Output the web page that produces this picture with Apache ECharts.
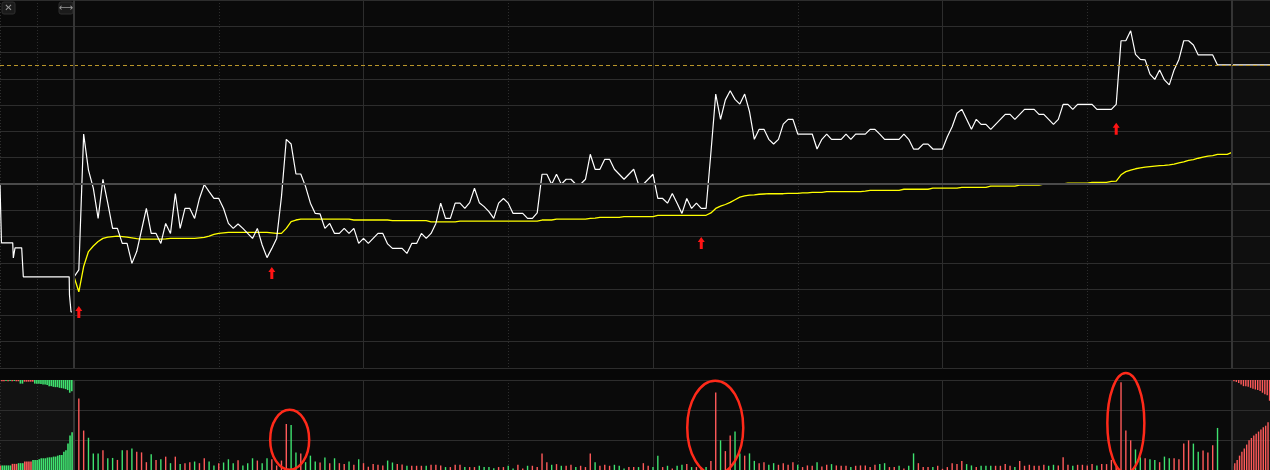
<!DOCTYPE html>
<html>
<head>
<meta charset="utf-8">
<script src="https://cdn.jsdelivr.net/npm/echarts/dist/echarts.min.js"></script>
<style>
html,body{margin:0;padding:0;background:#0a0a0a;overflow:hidden;}
#chart{width:1270px;height:470px;}
</style>
</head>
<body>
<div id="chart"></div>
<script>
// ---- intraday data (percent change vs. previous close), one point per minute 09:30..15:00 ----
const minutePrice = [
 -3.53,-3.27,1.90,0.53,-0.16,-1.31,0.18,-0.73,-1.69,-1.69,
 -2.26,-2.26,-3.02,-2.57,-1.75,-0.93,-1.88,-1.88,-2.26,-1.50,
 -1.88,-0.36,-1.69,-0.93,-0.93,-1.31,-0.55,-0.02,-0.29,-0.55,
 -0.55,-0.93,-1.50,-1.69,-1.52,-1.69,-1.88,-2.07,-1.69,-2.32,
 -2.80,-2.45,-2.07,-0.48,1.70,1.52,0.38,0.38,-0.10,-0.73,
 -1.12,-1.14,-1.69,-1.50,-1.88,-1.88,-1.69,-1.88,-1.69,-2.26,
 -2.07,-2.26,-2.07,-1.88,-1.88,-2.28,-2.45,-2.45,-2.45,-2.64,
 -2.26,-2.26,-1.88,-2.07,-1.88,-1.50,-0.73,-1.31,-1.31,-0.73,
 -0.73,-0.93,-0.71,-0.16,-0.71,-0.86,-1.05,-1.31,-0.73,-0.55,
 -0.73,-1.12,-1.12,-1.12,-1.31,-1.31,-1.10,0.37,0.37,-0.01,
 0.37,-0.01,0.18,0.18,-0.01,-0.01,0.18,1.13,0.56,0.56,
 0.94,0.94,0.56,0.37,0.18,0.37,0.56,-0.01,-0.01,0.18,
 0.37,-0.55,-0.55,-0.73,-0.36,-0.73,-1.12,-0.55,-0.93,-0.73,
 -0.93,-0.93,1.19,3.42,2.46,3.20,3.55,3.22,3.04,3.42,
 2.75,1.70,2.08,2.08,1.70,1.52,1.70,2.28,2.46,2.46,
 1.90,1.90,1.90,1.90,1.33,1.70,1.90,1.70,1.70,1.70,
 1.90,1.70,1.90,1.90,1.90,2.08,2.08,1.90,1.70,1.70,
 1.70,1.70,1.90,1.70,1.33,1.33,1.52,1.52,1.33,1.33,
 1.33,1.80,2.18,2.69,2.84,2.46,2.08,2.46,2.27,2.27,
 2.08,2.27,2.46,2.65,2.65,2.46,2.65,2.84,2.84,2.84,
 2.65,2.65,2.46,2.27,2.46,3.03,3.03,2.84,3.03,3.03,
 3.03,3.03,2.84,2.84,2.84,2.84,3.03,5.45,5.45,5.83,
 4.93,4.74,4.72,4.18,3.98,4.34,3.96,3.77,4.34,4.74,
 5.45,5.45,5.29,4.91,4.91,4.91,4.91,4.53,4.53,4.53,
 4.53
];
const minuteAvg = [
 -3.53,-4.10,-3.14,-2.57,-2.36,-2.19,-2.07,-2.02,-2.00,-1.98,
 -2.00,-2.02,-2.05,-2.08,-2.10,-2.10,-2.10,-2.10,-2.10,-2.09,
 -2.07,-2.07,-2.07,-2.07,-2.07,-2.07,-2.05,-2.03,-1.98,-1.92,
 -1.88,-1.86,-1.84,-1.84,-1.84,-1.84,-1.84,-1.84,-1.84,-1.84,
 -1.84,-1.86,-1.88,-1.88,-1.69,-1.43,-1.37,-1.34,-1.34,-1.34,
 -1.34,-1.34,-1.34,-1.34,-1.34,-1.34,-1.34,-1.34,-1.37,-1.37,
 -1.37,-1.37,-1.37,-1.37,-1.37,-1.37,-1.39,-1.39,-1.39,-1.39,
 -1.39,-1.39,-1.39,-1.39,-1.44,-1.44,-1.44,-1.44,-1.44,-1.44,
 -1.41,-1.41,-1.41,-1.41,-1.41,-1.41,-1.41,-1.41,-1.41,-1.41,
 -1.41,-1.41,-1.41,-1.41,-1.41,-1.41,-1.41,-1.37,-1.37,-1.37,
 -1.34,-1.34,-1.34,-1.34,-1.34,-1.34,-1.34,-1.31,-1.30,-1.27,
 -1.27,-1.27,-1.27,-1.27,-1.24,-1.24,-1.24,-1.24,-1.24,-1.24,
 -1.24,-1.19,-1.19,-1.19,-1.19,-1.19,-1.19,-1.19,-1.19,-1.19,
 -1.19,-1.19,-1.10,-0.93,-0.84,-0.78,-0.70,-0.60,-0.50,-0.45,
 -0.42,-0.41,-0.39,-0.38,-0.37,-0.37,-0.37,-0.37,-0.36,-0.36,
 -0.36,-0.34,-0.34,-0.32,-0.32,-0.32,-0.29,-0.29,-0.29,-0.29,
 -0.29,-0.29,-0.29,-0.29,-0.27,-0.24,-0.24,-0.24,-0.24,-0.24,
 -0.24,-0.24,-0.20,-0.20,-0.20,-0.20,-0.20,-0.20,-0.16,-0.16,
 -0.16,-0.16,-0.16,-0.16,-0.13,-0.13,-0.13,-0.13,-0.13,-0.13,
 -0.08,-0.08,-0.08,-0.08,-0.08,-0.08,-0.04,-0.04,-0.04,-0.04,
 -0.04,0.00,0.00,0.00,0.00,0.00,0.03,0.03,0.03,0.03,
 0.03,0.06,0.06,0.06,0.06,0.10,0.11,0.35,0.47,0.53,
 0.58,0.61,0.64,0.66,0.68,0.70,0.71,0.73,0.76,0.80,
 0.84,0.90,0.93,0.98,1.02,1.06,1.08,1.13,1.13,1.13,
 1.20
];
// per-minute volume (lots) and direction (1 = up tick, 0 = down tick)
const minuteVol = [
 1280,2380,1315,1075,554,554,662,391,402,336,
 662,662,717,608,587,261,522,336,358,445,
 228,445,196,228,261,282,228,391,282,152,
 228,250,358,228,326,152,228,391,315,228,
 391,358,152,315,1532,1500,587,554,261,478,
 282,250,413,228,391,228,196,282,174,358,
 228,109,196,174,152,315,250,196,185,141,
 141,141,141,141,174,174,152,98,98,174,
 174,98,98,98,141,98,98,60,98,98,
 141,50,174,50,141,141,98,554,261,174,
 196,141,141,174,98,141,98,554,261,141,
 174,141,174,141,50,98,98,98,228,141,
 98,478,98,141,50,141,174,196,98,98,
 98,98,304,2586,989,630,1152,1282,554,478,
 554,304,228,261,174,228,174,228,174,261,
 174,98,152,141,261,120,174,196,152,141,
 141,98,141,152,152,98,174,196,228,98,
 98,141,50,141,554,228,98,98,98,141,
 40,98,228,196,304,196,152,98,141,141,
 141,141,141,196,141,98,304,141,174,141,
 141,174,141,174,152,424,174,141,174,174,
 152,196,152,196,196,337,174,2923,1315,989,
 685,424,391,358,337,261,446,391,391,358,
 880,989,880,609,652,587,826,1402,0,0,
 1097
];
const minuteDir = [
 0,1,1,0,0,0,1,0,0,1, 0,1,0,1,1,1,0,1,0,1, 0,1,0,1,1,0,1,1,0,0, 1,0,0,0,1,0,0,0,1,0,
 0,1,1,1,1,0,0,1,0,0, 0,1,0,1,0,1,1,0,1,0, 1,1,1,1,1,0,0,1,1,0, 1,1,1,0,1,1,1,0,1,1,
 1,0,1,1,0,0,0,0,1,1, 0,0,1,1,0,1,1,1,1,0, 1,0,1,1,0,1,1,1,0,1, 1,1,0,0,0,1,1,0,1,1,
 0,0,1,0,1,0,0,1,0,1, 0,0,1,1,0,1,1,0,0,1, 0,0,1,1,0,0,1,1,1,1, 0,1,1,1,0,1,1,0,1,1,
 1,0,1,1,1,1,1,0,0,1, 1,0,1,0,0,1,1,1,0,1, 1,1,1,1,1,0,0,1,0,0, 0,1,1,1,1,0,1,1,1,1,
 1,1,0,0,1,1,1,0,1,1, 1,1,0,1,1,1,1,1,1,1, 0,0,1,0,0,1,0,0,1,1, 1,1,0,0,1,1,1,0,1,1,
 1
];

// ---- opening call auction (minutes after 09:15) ----
const auctionTime  = [0, 0.2, 0.2, 1.72, 1.8, 2.03, 2.93, 3.15, 9.35, 9.39, 9.55, 9.6, 9.73];
const auctionPrice = [0, 0, -2.24, -2.24, -2.81, -2.43, -2.43, -3.53, -3.53, -4.22, -4.22, -4.87, -4.87];
const auctionMatched   = [153,153,153,153,153,153,205,205,205,228,228,228,284,284,284,284,336,336,
                          336,359,391,391,391,414,424,424,447,447,479,499,499,610,662,880,1151,1262];
const auctionMatchedDir= [1,0,0,0,0,0,1,1,1,0,0,0,1,1,1,1,0,0,0,0,0,0,0,0,0,0,0,0,0,0,0,0,0,0,0,0];
const auctionUnmatched = [42,42,33,42,33,42,33,42,42,121,121,55,55,55,55,55,121,121,
                          121,130,153,153,163,205,205,228,238,238,261,271,284,303,336,424,375,310];
const auctionUnmatchedDir=[1,1,0,1,0,1,0,1,1,0,0,1,1,1,1,1,0,0,0,0,0,0,0,0,0,0,0,0,0,0,0,0,0,0,0,0];

// ---- after-hours fixed-price session ----
const afterMatched   = [121,228,336,479,610,717,848,988,1066,1151,1206,1281,1346,1425,1477,1588];
const afterUnmatched = [42,65,98,153,205,205,228,261,293,316,336,368,424,479,512,694];

// ---- annotations ----
const lastPrice = minutePrice[minutePrice.length - 1];
const arrowMinute = [1, 41, 130, 216];
const arrowLevel  = [-4.87, -3.39, -2.24, 2.10];
const ringMinute = [44.7, 132.9, 218];
const ringVol    = [1010, 1412, 1565];
const ringRadius = [[19.5, 30], [28, 47], [18.5, 50]];

// ---- styling ----
const BG = '#0a0a0a', GRID = '#2d2d2d', UP = '#ff5a5a', DOWN = '#3fe26f';
const GOLD = '#b8952a';

function bare(o) {
  return Object.assign({ axisLine: { show: false }, axisTick: { show: false },
    axisLabel: { show: false }, splitLine: { show: false } }, o);
}
const solidSplit  = { show: true, lineStyle: { color: GRID, width: 1, type: 'solid' } };
const dottedSplit = { show: true, lineStyle: { color: GRID, width: 1, type: [1, 2] } };

function refLines(extra) {
  return {
    silent: true, symbol: 'none', animation: false, label: { show: false },
    emphasis: { disabled: true },
    data: [
      { yAxis: 0, lineStyle: { color: '#4a4a4a', width: 2, type: 'solid' } },
      { yAxis: lastPrice, lineStyle: { color: GOLD, width: 1, type: [4, 3] } }
    ].concat(extra || [])
  };
}
const edgeLines = [
  { xAxis: 0,   lineStyle: { color: '#353535', width: 2, type: 'solid' } },
  { xAxis: 240, lineStyle: { color: '#353535', width: 2, type: 'solid' } }
];

const minuteIdx = minutePrice.map((_, i) => i);
const arrowPath = 'path://M3.5,0 L7,5 L5,5 L5,12 L2,12 L2,5 L0,5 Z';

const option = {
  backgroundColor: BG,
  animation: false,
  grid: [
    { left: 0,    top: 0,   width: 74,   height: 368 },
    { left: 74,   top: 0,   width: 1158, height: 368 },
    { left: 1232, top: 0,   width: 38,   height: 368, show: true, borderWidth: 0, backgroundColor: '#0f0f0f' },
    { left: 0,    top: 380, width: 74,   height: 92,  show: true, borderWidth: 0, backgroundColor: '#121212' },
    { left: 74,   top: 380, width: 1158, height: 92 },
    { left: 1232, top: 380, width: 38,   height: 92,  show: true, borderWidth: 0, backgroundColor: '#121212' }
  ],
  xAxis: [
    bare({ type: 'value', gridIndex: 0, min: 0, max: 10, interval: 5, splitLine: dottedSplit }),
    bare({ type: 'value', gridIndex: 1, min: 0, max: 240, interval: 30, splitLine: dottedSplit }),
    bare({ type: 'value', gridIndex: 1, min: 0, max: 240, interval: 60, splitLine: solidSplit }),
    bare({ type: 'value', gridIndex: 2, min: 0, max: 1 }),
    bare({ type: 'value', gridIndex: 3, min: 0, max: 36, interval: 18, splitLine: dottedSplit }),
    bare({ type: 'value', gridIndex: 4, min: 0, max: 240, interval: 30, splitLine: dottedSplit }),
    bare({ type: 'value', gridIndex: 4, min: 0, max: 240, interval: 60, splitLine: solidSplit }),
    bare({ type: 'category', gridIndex: 5, data: afterMatched.map((_, k) => k) })
  ],
  yAxis: [
    bare({ type: 'value', gridIndex: 0, min: -7, max: 7, interval: 1, splitLine: solidSplit }),
    bare({ type: 'value', gridIndex: 1, min: -7, max: 7, interval: 1, splitLine: solidSplit }),
    bare({ type: 'value', gridIndex: 2, min: -7, max: 7, interval: 1, splitLine: solidSplit }),
    bare({ type: 'value', gridIndex: 3, min: 0, max: 3000, interval: 1000, splitLine: solidSplit }),
    bare({ type: 'value', gridIndex: 3, min: 0, max: 3000, inverse: true }),
    bare({ type: 'value', gridIndex: 4, min: 0, max: 3000, interval: 1000, splitLine: solidSplit }),
    bare({ type: 'value', gridIndex: 5, min: 0, max: 3000, interval: 1000, splitLine: solidSplit }),
    bare({ type: 'value', gridIndex: 5, min: 0, max: 3000, inverse: true })
  ],
  series: [
    { // call auction price
      type: 'line', xAxisIndex: 0, yAxisIndex: 0, symbol: 'none', silent: true,
      lineStyle: { color: '#ffffff', width: 1.2 },
      data: auctionTime.map((t, k) => [t, auctionPrice[k]]),
      markLine: refLines()
    },
    { // average price
      type: 'line', xAxisIndex: 1, yAxisIndex: 1, symbol: 'none', silent: true, z: 3,
      lineStyle: { color: '#ffff00', width: 1.3 },
      data: minuteIdx.map(i => [i, minuteAvg[i]])
    },
    { // last price
      type: 'line', xAxisIndex: 1, yAxisIndex: 1, symbol: 'none', silent: true, z: 4,
      lineStyle: { color: '#ffffff', width: 1.2 },
      data: minuteIdx.map(i => [i, minutePrice[i]]),
      markLine: refLines(edgeLines),
      markPoint: {
        silent: true, animation: false, symbol: arrowPath, symbolSize: [7, 12],
        itemStyle: { color: '#ff1414' }, label: { show: false },
        data: arrowMinute.map((m, k) => ({ coord: [m, arrowLevel[k]] }))
      }
    },
    { // after-hours price
      type: 'line', xAxisIndex: 3, yAxisIndex: 2, symbol: 'none', silent: true,
      lineStyle: { color: '#ffffff', width: 1.2 },
      data: [[0, lastPrice], [1, lastPrice]],
      markLine: refLines()
    },
    { // auction matched volume
      type: 'bar', xAxisIndex: 4, yAxisIndex: 3, barWidth: 1.6, silent: true,
      data: auctionMatched.map((v, k) => ({ value: [k + 0.5, v], itemStyle: { color: auctionMatchedDir[k] ? UP : DOWN } }))
    },
    { // auction unmatched volume (hanging from top)
      type: 'bar', xAxisIndex: 4, yAxisIndex: 4, barWidth: 1.6, silent: true,
      data: auctionUnmatched.map((v, k) => ({ value: [k + 0.5, v], itemStyle: { color: auctionUnmatchedDir[k] ? UP : DOWN } }))
    },
    { // minute volume
      type: 'bar', xAxisIndex: 5, yAxisIndex: 5, barWidth: 1.4, silent: true,
      data: minuteIdx.map(i => ({ value: [i, minuteVol[i]], itemStyle: { color: minuteDir[i] ? UP : DOWN } })),
      markLine: { silent: true, symbol: 'none', animation: false, label: { show: false }, data: edgeLines }
    },
    { // after-hours matched volume
      type: 'bar', xAxisIndex: 7, yAxisIndex: 6, barWidth: 1.4, silent: true,
      itemStyle: { color: UP }, data: afterMatched
    },
    { // after-hours unmatched volume
      type: 'bar', xAxisIndex: 7, yAxisIndex: 7, barWidth: 1.4, silent: true,
      itemStyle: { color: UP }, data: afterUnmatched
    }
  ]
};

const chart = echarts.init(document.getElementById('chart'), null, { renderer: 'canvas', width: 1270, height: 470 });
chart.setOption(option);

// rings around heavy-volume bursts and toolbar buttons
const rings = ringMinute.map((m, k) => {
  const p = chart.convertToPixel({ xAxisIndex: 5, yAxisIndex: 5 }, [m, ringVol[k]]);
  return {
    type: 'ellipse', silent: true, z: 100,
    shape: { cx: p[0], cy: p[1], rx: ringRadius[k][0], ry: ringRadius[k][1] },
    style: { fill: 'none', stroke: '#ff2a1a', lineWidth: 2.5 }
  };
});
const buttons = [
  { x: 2, w: 13, glyph: '\u2715' },
  { x: 59, w: 14, glyph: '\u27F7' }
].map(b => ({
  type: 'group', x: b.x, y: 2, silent: true, z: 100,
  children: [
    { type: 'rect', shape: { x: 0, y: 0, width: b.w, height: 12, r: 2 },
      style: { fill: '#1b1b1b', stroke: '#2e2e2e', lineWidth: 1 } },
    { type: 'text', style: { text: b.glyph, x: b.w / 2, y: 6, align: 'center', verticalAlign: 'middle',
      fill: '#9a9a9a', font: '10px "DejaVu Sans"' } }
  ]
}));
chart.setOption({
  graphic: [
    { type: 'rect', silent: true, shape: { x: 0, y: 369, width: 1270, height: 10.5 }, style: { fill: '#070707' } }
  ].concat(rings, buttons)
});
</script>
</body>
</html>
